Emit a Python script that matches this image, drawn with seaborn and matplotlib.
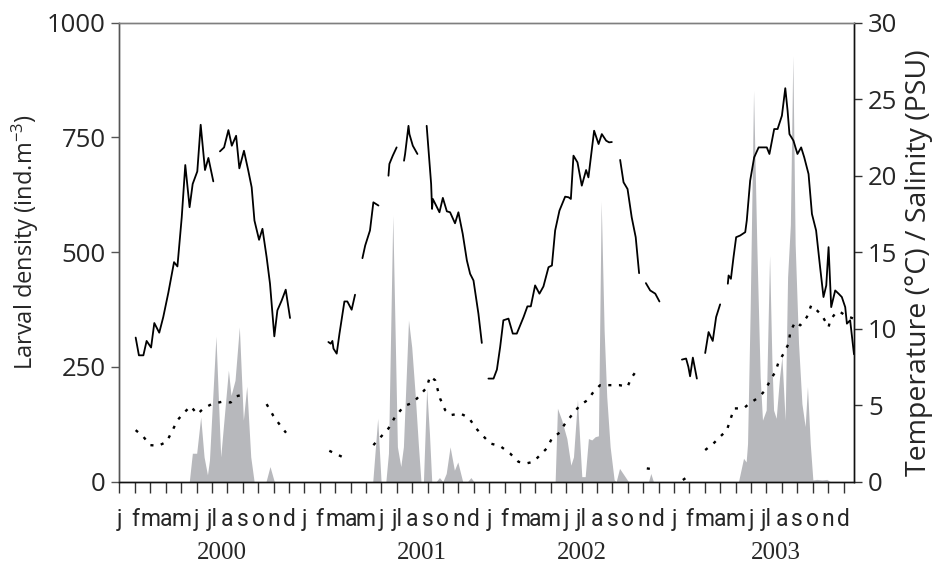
import numpy as np
import pandas as pd
import matplotlib
matplotlib.use("Agg")
import matplotlib.pyplot as plt
import matplotlib.transforms as mtransforms
from matplotlib import font_manager as fm
import seaborn as sns

nan = np.nan

# ---------------- data (x in months since Jan 2000) ----------------
month_letters = ["j", "f", "m", "a", "m", "j", "jl", "a", "s", "o", "n", "d"]
years = ["2000", "2001", "2002", "2003"]
year_label_month = [6.66, 19.64, 30.03, 42.63]

dens_month = [0, 4.53, 4.73, 5.01, 5.27, 5.49, 5.71, 5.84, 6.26, 6.57, 7.07, 7.24, 7.50, 7.78, 8.04,
              8.26, 8.52, 8.74, 9.51, 9.77, 10.05,
              16.44, 16.76, 16.98, 17.29, 17.46, 17.74, 18.04, 18.26, 18.43, 18.76, 18.97, 19.19,
              19.41, 19.57, 19.73, 19.94, 20.12, 20.27, 20.55, 20.77, 20.99, 21.21, 21.46, 21.74,
              21.96, 22.28, 22.59, 22.81, 23.01,
              28.28, 28.43, 28.71, 29.04, 29.30, 29.47, 29.73, 29.90, 30.01, 30.23, 30.44, 30.66,
              30.88, 31.09, 31.27, 31.46, 31.63, 31.85, 32.11, 32.24, 32.46, 33.04, 34.34, 34.49, 34.66,
              40.18, 40.51, 40.68, 40.77, 40.94, 41.16, 41.37, 41.59, 41.74, 41.98, 42.20, 42.35,
              42.46, 42.63, 42.85, 43.00, 43.21, 43.37, 43.55, 43.71, 43.86, 44.08, 44.30, 44.51,
              44.66, 44.84, 45.01, 45.27, 45.60, 45.92, 46.14, 47.7]
dens_value = [0, 0, 62, 62, 141, 54, 15, 47, 317, 54, 243, 188, 221, 337, 134,
              208, 54, 0, 0, 33, 0,
              0, 138, 0, 0, 62, 580, 76, 33, 76, 352, 293, 192,
              76, 0, 0, 203, 105, 0, 0, 9, 0, 18, 76, 25,
              43, 0, 0, 9, 0,
              0, 160, 134, 94, 36, 54, 179, 76, 11, 11, 94, 91,
              98, 100, 611, 330, 185, 76, 4, 0, 29, 0, 0, 18, 0,
              0, 51, 43, 83, 373, 852, 518, 228, 134, 156, 493, 265,
              156, 138, 228, 272, 134, 446, 560, 928, 518, 301, 170, 120,
              207, 83, 4, 5, 4, 5, 0, 0]

temp_month = [1.05, 1.26, 1.55, 1.76, 2.05, 2.26, 2.58, 2.84, 3.17, 3.54, 3.76, 4.04, 4.27, 4.55,
              4.75, 5.05, 5.27, 5.55, 5.77, 6.09, nan,
              6.52, 6.79, 7.07, 7.29, 7.57, 7.78, 8.08, 8.36, 8.58, 8.76, 9.06, 9.28, 9.55, 9.77,
              10.05, 10.25, 10.53, 10.79, 11.07, nan,
              13.56, 13.71, 13.82, 13.89, 14.10, 14.28, 14.60, 14.79, 15.07, 15.29, nan,
              15.77, 15.95, 16.26, 16.48, 16.81, nan,
              17.46, 17.52, 17.74, 17.99, nan,
              18.47, 18.54, 18.76, 18.82, 19.04, 19.34, nan,
              19.94, 20.23, 20.29, 20.34, 20.77, 20.99, 21.25, 21.46, 21.78, 22.00, 22.28, 22.55,
              22.76, 22.98, 23.30, 23.52, nan,
              23.95, 24.28, 24.50, 24.71, 24.92, 25.25, 25.53, 25.79, 26.01, 26.23, 26.48, 26.70,
              26.98, 27.26, 27.52, 27.85, 28.07, 28.28, 28.56, 28.93, 29.15, 29.30, 29.47, 29.73,
              30.01, 30.29, 30.44, 30.81, 31.10, 31.31, 31.59, 31.78, 31.96, nan,
              32.50, 32.72, 32.98, 33.25, 33.51, 33.73, nan,
              34.17, 34.45, 34.78, 35.05, nan,
              36.51, 36.78, 36.93, 37.04, 37.22, 37.48, nan,
              38.02, 38.24, 38.51, 38.73, 38.99, nan,
              39.49, 39.54, 39.69, 39.86, 40.03, 40.29, 40.62, 40.72, 40.94, 41.20, 41.49, 41.80,
              42.02, 42.19, 42.50, 42.72, 43.00, 43.22, 43.37, 43.49, 43.75, 44.01, 44.25, 44.45,
              44.73, 44.95, 45.22, 45.48, 45.70, 45.88, 46.03, 46.20, 46.46, 46.68, 46.89, 47.11,
              47.22, 47.43, 47.68]
temp_value = [9.42, 8.26, 8.26, 9.2, 8.77, 10.37, 9.74, 10.76, 12.35, 14.35, 14.07, 17.28, 20.7, 17.94,
              19.46, 20.28, 23.33, 20.37, 21.16, 19.63, nan,
              21.59, 21.85, 22.98, 21.96, 22.61, 20.48, 21.63, 20.33, 19.24, 17.07, 15.81, 16.53, 14.68, 12.94,
              9.50, 11.2, 11.85, 12.55, 10.70, nan,
              9.13, 9.02, 9.2, 8.70, 8.37, 9.68, 11.78, 11.78, 11.24, 12.22, nan,
              14.61, 15.44, 16.42, 18.26, 18.05, nan,
              20.0, 20.77, 21.31, 21.85, nan,
              20.98, 21.42, 23.26, 22.72, 21.96, 21.42, nan,
              23.26, 19.46, 17.83, 18.48, 17.61, 18.55, 17.67, 17.61, 16.89, 17.61, 16.2, 14.46,
              13.59, 13.15, 10.98, 9.07, nan,
              6.74, 6.74, 7.33, 8.80, 10.55, 10.66, 9.68, 9.68, 10.22, 10.76, 11.46, 11.46,
              12.83, 12.29, 12.76, 14.02, 14.13, 16.42, 17.72, 18.63, 18.59, 18.48, 21.31, 20.87,
              19.35, 20.37, 19.89, 22.94, 22.07, 22.72, 22.29, 22.18, 22.2, nan,
              21.03, 19.57, 19.13, 17.28, 15.98, 13.63, nan,
              12.98, 12.50, 12.29, 11.78, nan,
              7.98, 8.05, 7.50, 6.89, 8.11, 6.74, nan,
              8.41, 9.78, 9.20, 10.76, 11.59, nan,
              12.94, 13.48, 13.26, 14.68, 15.98, 16.09, 16.31, 17.07, 19.68, 21.2, 21.85, 21.85,
              21.85, 21.42, 23.05, 23.05, 23.92, 25.72, 24.24, 22.72, 22.29, 21.42, 21.85, 21.2,
              20.11, 17.5, 16.42, 14.02, 12.07, 12.83, 15.33, 11.41, 12.50, 12.29, 12.07, 11.41,
              10.33, 10.55, 8.33]

sal_month = [1.05, 1.55, 1.98, 2.53, 3.06, 3.45, 3.76, 4.25, 4.62, 5.05, 5.45, 5.98, 6.63, 7.22,
             7.61, 8.15, nan,
             9.55, 9.99, 10.42, 10.81, nan,
             13.62, 14.21, 14.76, nan,
             16.48, 17.46, 17.89, 18.47, 19.08, 19.94, 20.16, 20.49, 20.81, 21.14, 21.50, 22.11,
             22.66, 23.15, 24.06, 24.71, 25.35, 25.90, 26.43, 26.87, 27.41, 27.74, 28.07, 28.56,
             28.93, 29.36, 29.90, 30.38, 30.77, 31.20, 31.85, 32.46, 32.98, 33.20, 33.58, nan,
             34.23, 34.88, nan,
             36.57, 37.04, nan,
             38.02, 38.56, 38.99, 39.43, 39.64, 39.90, 40.51, 40.94, 41.48, 41.92, 42.24, 42.57,
             42.79, 43.11, 43.44, 43.54, 43.86, 44.19, 44.62, 44.90, 45.27, 45.60, 46.03, 46.14,
             46.53, 46.79, 47.11, 47.65]
sal_value = [3.37, 2.94, 2.39, 2.35, 2.61, 3.37, 4.02, 4.57, 4.94, 4.41, 4.79, 5.07, 5.22, 5.18,
             5.59, 5.72, nan,
             5.07, 4.30, 3.70, 3.20, nan,
             2.02, 1.74, 1.48, nan,
             2.39, 3.48, 4.24, 4.94, 5.18, 6.15, 6.89, 6.63, 5.44, 4.68, 4.35, 4.46,
             4.20, 3.48, 2.50, 2.33, 1.85, 1.30, 1.20, 1.30, 1.85, 2.18, 2.83, 3.20,
             3.81, 4.35, 5.0, 5.33, 5.87, 6.31, 6.31, 6.31, 6.20, 6.74, 7.29, nan,
             0.87, 0.78, nan,
             0.11, 0.44, nan,
             2.07, 2.50, 2.94, 3.37, 4.02, 4.79, 4.79, 5.15, 5.50, 5.98, 6.63, 7.17,
             7.83, 8.37, 9.03, 9.78, 10.44, 10.22, 10.76, 11.52, 11.20, 10.87, 10.11, 10.55,
             11.09, 11.09, 10.87, 10.66]


def to_segments(xs, ys):
    xs = np.asarray(xs, float)
    ys = np.asarray(ys, float)
    seg = np.cumsum(np.isnan(xs))
    df = pd.DataFrame({"month": xs, "value": ys, "seg": seg})
    return df.dropna()


# ---------------- fonts ----------------
def pick(names):
    for n in names:
        try:
            fm.findfont(fm.FontProperties(family=n), fallback_to_default=False)
            return n
        except Exception:
            pass
    return "DejaVu Sans"


sns.set_style("ticks")
main_font = pick(["Open Sans", "Noto Sans", "DejaVu Sans"])
narrow_font = pick(["Liberation Sans Narrow", "Roboto", "Open Sans"])
serif_font = pick(["Liberation Serif", "DejaVu Serif"])
plt.rcParams["font.family"] = [main_font, "DejaVu Sans"]
plt.rcParams["mathtext.default"] = "regular"

W, H = 933, 572
fig = plt.figure(figsize=(W / 100, H / 100), dpi=100)
x0, x1, ytop, ybot = 119.5, 854.3, 22.7, 481.7
ax = fig.add_axes([x0 / W, 1 - ybot / H, (x1 - x0) / W, (ybot - ytop) / H])
ax2 = ax.twinx()

# larval density (grey area)
ax.fill_between(dens_month, dens_value, 0, color="#b7b8bc", linewidth=0, zorder=1)

# temperature (solid) and salinity (dotted)
sns.lineplot(data=to_segments(temp_month, temp_value), x="month", y="value", units="seg",
             estimator=None, sort=False, color="black", linewidth=1.3, ax=ax2, legend=False)
sns.lineplot(data=to_segments(sal_month, sal_value), x="month", y="value", units="seg",
             estimator=None, sort=False, color="black", linewidth=1.7,
             linestyle=(0, (1.3, 3.2)), ax=ax2, legend=False)

ax.set_xlim(0, 47.7)
ax.set_ylim(0, 1000)
ax2.set_ylim(0, 30)
ax.set_yticks([0, 250, 500, 750, 1000])
ax2.set_yticks([0, 5, 10, 15, 20, 25, 30])
ax.set_xticks(np.arange(48))
ax.set_xticklabels(month_letters * 4, fontfamily=narrow_font, fontsize=16.5)
ax.set_xlabel("")
ax.set_ylabel("")
ax2.set_xlabel("")
ax2.set_ylabel("")

ax.tick_params(axis="x", length=8, width=1, color="#333333", pad=11)
ax.tick_params(axis="y", length=6, width=1, color="#555555", labelsize=18.5, pad=4)
ax2.tick_params(axis="y", length=6, width=1, color="#333333", labelsize=18.5, pad=4)
for a in (ax, ax2):
    a.spines["top"].set_color("#7f7f7f")
    a.spines["left"].set_color("#555555")
    a.spines["right"].set_color("#111111")
    a.spines["bottom"].set_color("#111111")
    for s in a.spines.values():
        s.set_linewidth(1.0)

trans = mtransforms.blended_transform_factory(ax.transData, ax.transAxes)
for m, yr in zip(year_label_month, years):
    ax.text(m, (ybot - 553) / (ybot - ytop), yr, transform=trans, ha="center", va="center",
            fontfamily=serif_font, fontsize=18)

fig.text(25 / W, 1 - 242 / H, "Larval density (ind.m$^{-3}$)", rotation=90,
         ha="center", va="center", fontsize=17)
fig.text(919 / W, 1 - 263 / H, "Temperature (°C) / Salinity (PSU)", rotation=90,
         ha="center", va="center", fontsize=20.5)

fig.savefig("out.png", dpi=100)
